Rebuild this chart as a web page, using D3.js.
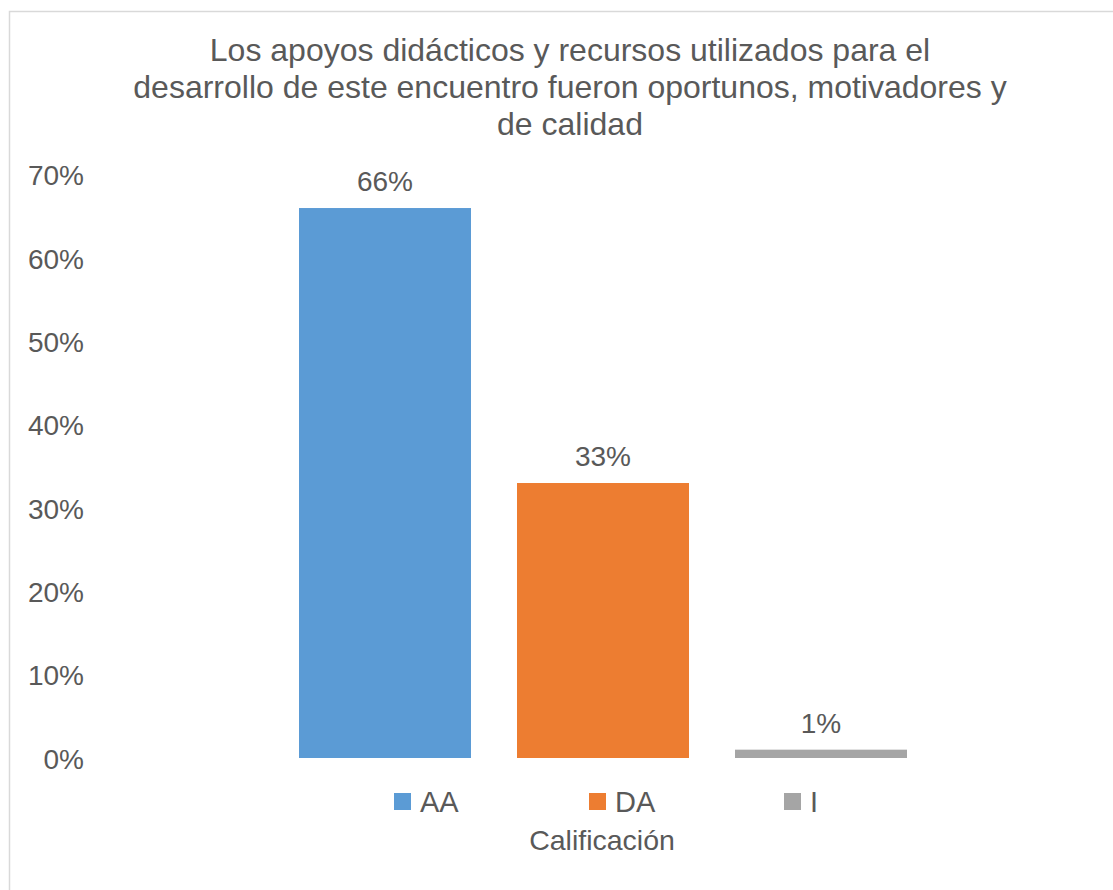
<!DOCTYPE html>
<html>
<head>
<meta charset="utf-8">
<script src="https://cdn.jsdelivr.net/npm/d3@7"></script>
<style>
  html, body { margin: 0; padding: 0; background: #fff; }
  svg { display: block; }
  text { font-family: Arial, "Liberation Sans", sans-serif; fill: #595959; }
</style>
</head>
<body>
<svg id="chart" width="1113" height="890"></svg>
<script>
const titleLines = [
  "Los apoyos didácticos y recursos utilizados para el",
  "desarrollo de este encuentro fueron oportunos, motivadores y",
  "de calidad"
];
const categories = ["AA", "DA", "I"];
const values = [0.66, 0.33, 0.01];
const colors = ["#5B9BD5", "#ED7D31", "#A5A5A5"];
const yTicks = [0, 0.1, 0.2, 0.3, 0.4, 0.5, 0.6, 0.7];
const axisTitle = "Calificación";

const svg = d3.select("#chart");

// outer border
svg.append("rect")
  .attr("x", 9.5).attr("y", 11.5)
  .attr("width", 1120).attr("height", 900)
  .attr("fill", "none").attr("stroke", "#D9D9D9").attr("stroke-width", 1.5);

// title
svg.append("text")
  .attr("text-anchor", "middle")
  .attr("font-size", 32)
  .selectAll("tspan").data(titleLines).join("tspan")
  .attr("x", 570)
  .attr("y", (d, i) => 61 + i * 37)
  .text(d => d);

const x = d3.scaleBand()
  .domain(categories)
  .range([276, 930])
  .paddingInner(0.211)
  .paddingOuter(0.1055);

const y = d3.scaleLinear().domain([0, 0.7]).range([758, 174.7]);

// y axis (labels only)
const yAxis = d3.axisLeft(y)
  .tickValues(yTicks)
  .tickFormat(d3.format(".0%"))
  .tickSize(0)
  .tickPadding(0);
const gy = svg.append("g").attr("transform", "translate(84,0)").call(yAxis);
gy.select(".domain").remove();
gy.selectAll("text")
  .attr("font-size", 28)
  .attr("fill", "#595959")
  .attr("font-family", "Arial, 'Liberation Sans', sans-serif")
  .attr("dy", "0.36em");

// bars
svg.append("g").selectAll("rect")
  .data(categories).join("rect")
  .attr("x", d => x(d))
  .attr("width", x.bandwidth())
  .attr("y", (d, i) => y(values[i]))
  .attr("height", (d, i) => y(0) - y(values[i]))
  .attr("fill", (d, i) => colors[i]);

// data labels
svg.append("g").selectAll("text")
  .data(categories).join("text")
  .attr("x", d => x(d) + x.bandwidth() / 2)
  .attr("y", (d, i) => y(values[i]) - 17)
  .attr("text-anchor", "middle")
  .attr("font-size", 28)
  .text((d, i) => d3.format(".0%")(values[i]));

// legend
const lg = svg.append("g").selectAll("g")
  .data(categories).join("g")
  .attr("transform", (d, i) => `translate(${394 + i * 195},0)`);
lg.append("rect")
  .attr("x", 0).attr("y", 793)
  .attr("width", 17).attr("height", 17)
  .attr("fill", (d, i) => colors[i]);
lg.append("text")
  .attr("x", 26).attr("y", 811.5)
  .attr("font-size", 29)
  .text(d => d);

// axis title
svg.append("text")
  .attr("x", 602).attr("y", 850)
  .attr("text-anchor", "middle")
  .attr("font-size", 28.5)
  .text(axisTitle);
</script>
</body>
</html>
